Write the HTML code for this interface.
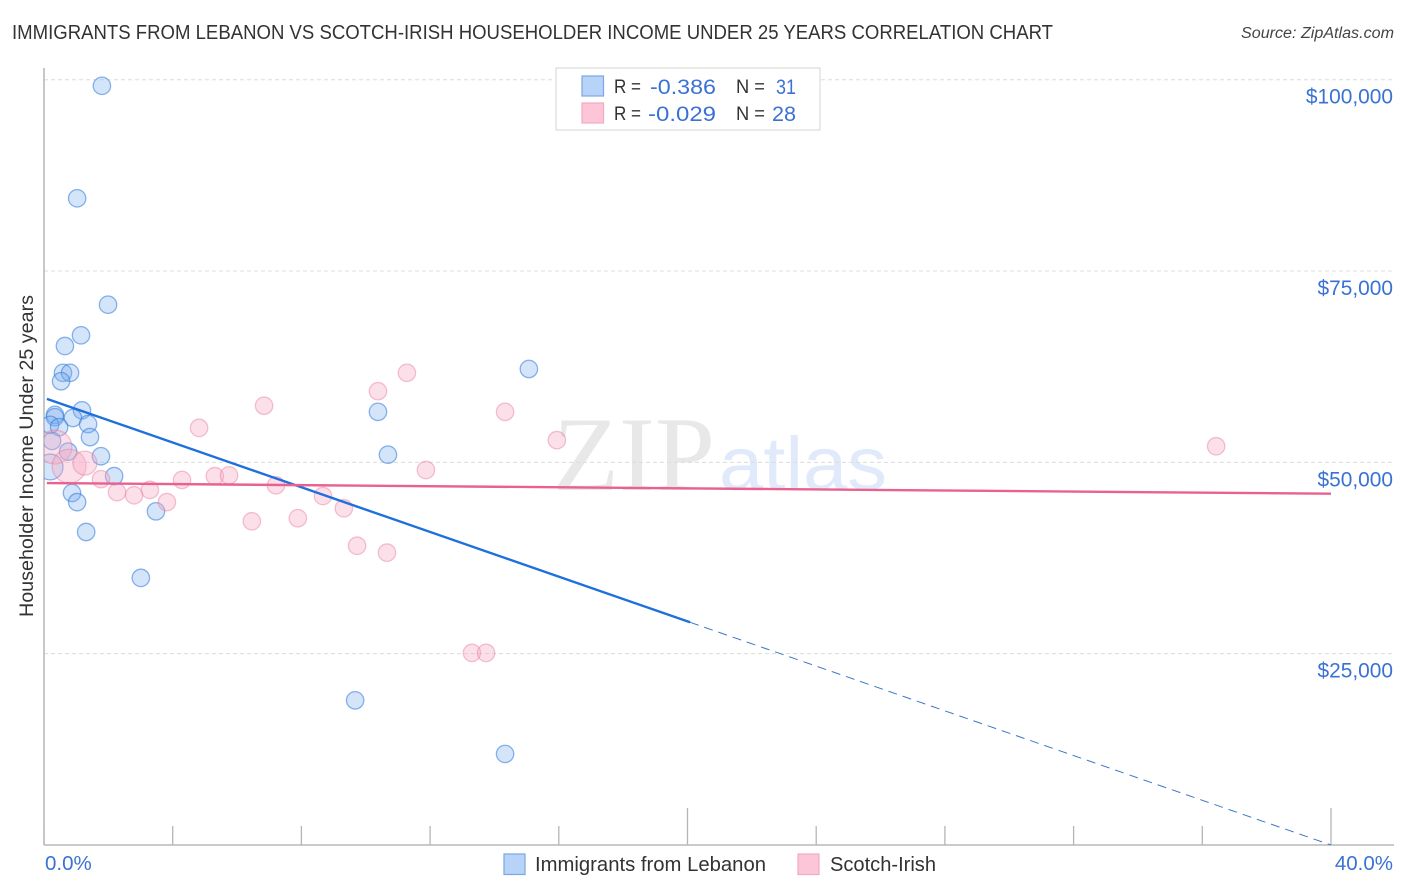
<!DOCTYPE html>
<html lang="en">
<head>
<meta charset="utf-8">
<title>Immigrants from Lebanon vs Scotch-Irish Householder Income Correlation Chart</title>
<style>
html,body{margin:0;padding:0;background:#fff;width:1406px;height:892px;overflow:hidden}
svg{display:block;font-family:"Liberation Sans",sans-serif}
</style>
</head>
<body>
<svg id="chart" width="1406" height="892" viewBox="0 0 1406 892" xmlns="http://www.w3.org/2000/svg">
  <defs><clipPath id="plot-clip"><rect x="44" y="60" width="1350" height="785"/></clipPath></defs>
  <rect x="0" y="0" width="1406" height="892" fill="#fff"/>
  <text x="12" y="39" font-size="20" fill="#333" textLength="1041" lengthAdjust="spacingAndGlyphs">IMMIGRANTS FROM LEBANON VS SCOTCH-IRISH HOUSEHOLDER INCOME UNDER 25 YEARS CORRELATION CHART</text>
  <text x="1241" y="38" font-size="15.5" font-style="italic" fill="#444" textLength="153" lengthAdjust="spacingAndGlyphs">Source: ZipAtlas.com</text>
  <g>
    <text x="553" y="490" font-family="'Liberation Serif',serif" font-size="106" fill="#e8e8e8" textLength="162" lengthAdjust="spacingAndGlyphs">ZIP</text>
    <text x="719" y="490" font-size="76" fill="#e1eafa" textLength="168" lengthAdjust="spacingAndGlyphs">atlas</text>
  </g>
  <g id="grid"></g>
  <g id="axes"></g>
  <g id="marks-lebanon" clip-path="url(#plot-clip)"></g>
  <g id="marks-scotch" clip-path="url(#plot-clip)"></g>
  <g id="trends"></g>
  <text transform="translate(33,456) rotate(-90)" text-anchor="middle" font-size="19.5" fill="#333" textLength="322" lengthAdjust="spacingAndGlyphs">Householder Income Under 25 years</text>
  <g>
    <rect x="556" y="68" width="264" height="62" fill="#fff" stroke="#ddd" stroke-width="1.2"/>
    <rect x="582" y="76" width="21.500" height="20" fill="#b7d3f8" stroke="#7aa8e4" stroke-width="1.2"/>
    <rect x="582" y="103" width="21.500" height="20" fill="#fcc6d8" stroke="#f3a9c2" stroke-width="1.2"/>
    <text x="614" y="93" font-size="19.500" fill="#333" textLength="27" lengthAdjust="spacingAndGlyphs">R =</text>
    <text x="650" y="94" font-size="21.500" fill="#3a72d4" textLength="66" lengthAdjust="spacingAndGlyphs">-0.386</text>
    <text x="736" y="93" font-size="19.500" fill="#333" textLength="29" lengthAdjust="spacingAndGlyphs">N =</text>
    <text x="776" y="94" font-size="21.500" fill="#3a72d4" textLength="20" lengthAdjust="spacingAndGlyphs">31</text>
    <text x="614" y="120" font-size="19.500" fill="#333" textLength="27" lengthAdjust="spacingAndGlyphs">R =</text>
    <text x="648" y="121" font-size="21.500" fill="#3a72d4" textLength="68" lengthAdjust="spacingAndGlyphs">-0.029</text>
    <text x="736" y="120" font-size="19.500" fill="#333" textLength="29" lengthAdjust="spacingAndGlyphs">N =</text>
    <text x="772" y="121" font-size="21.500" fill="#3a72d4" textLength="24" lengthAdjust="spacingAndGlyphs">28</text>
  </g>
  <g>
    <rect x="504" y="854" width="21" height="20.500" fill="#b7d3f8" stroke="#7aa8e4" stroke-width="1.2"/>
    <text x="535" y="871" font-size="20" fill="#333" textLength="231" lengthAdjust="spacingAndGlyphs">Immigrants from Lebanon</text>
    <rect x="798" y="854" width="21" height="20.500" fill="#fcc6d8" stroke="#f3a9c2" stroke-width="1.2"/>
    <text x="830" y="871" font-size="20" fill="#333" textLength="106" lengthAdjust="spacingAndGlyphs">Scotch-Irish</text>
  </g>
</svg>
<script>
// Chart data
var yTickValues = [25, 50, 75, 100];
var yTickLabels = ['$25,000', '$50,000', '$75,000', '$100,000'];
var xTickValues = [0, 4, 8, 12, 16, 20, 24, 28, 32, 36, 40];
var xEndLabels = ['0.0%', '40.0%'];

var lebanonIncome = [99.2, 84.5, 70.6, 66.6, 65.2, 61.7, 61.7, 60.6, 56.8, 56.2, 55.9, 55.8, 54.9, 54.6, 55.0, 53.3, 52.8, 51.4, 50.8, 48.2, 49.4, 46.0, 44.8, 43.6, 40.9, 34.9, 56.6, 51.0, 62.2, 18.9, 11.9];
var lebanonShare = [1.80, 1.03, 1.99, 1.15, 0.65, 0.59, 0.81, 0.53, 1.18, 0.34, 0.34, 0.90, 0.19, 0.47, 1.37, 1.43, 0.25, 0.75, 1.77, 2.18, 0.19, 0.87, 1.03, 3.48, 1.31, 3.01, 10.38, 10.69, 15.07, 9.67, 14.33];
var lebanonWeight = [1, 1, 1, 1, 1, 1, 1, 1, 1, 1, 1, 1, 1, 1, 1, 1, 1, 1, 1, 1, 2.2, 1, 1, 1, 1, 1, 1, 1, 1, 1, 1];

var scotchIncome = [52.0, 49.5, 49.9, 47.8, 46.1, 45.7, 46.4, 44.8, 47.7, 48.2, 48.3, 54.5, 57.4, 47.0, 42.3, 42.7, 45.6, 44.0, 39.1, 38.2, 59.3, 61.7, 49.0, 25.1, 25.1, 56.6, 52.9, 52.1];
var scotchShare = [0.34, 0.78, 1.27, 1.77, 2.27, 2.80, 3.29, 3.82, 4.29, 5.31, 5.75, 4.82, 6.84, 7.21, 6.46, 7.89, 8.67, 9.32, 9.73, 10.66, 10.38, 11.28, 11.87, 13.30, 13.74, 14.33, 15.94, 36.43];
var scotchWeight = [3.8, 3.8, 1.9, 1, 1, 1, 1, 1, 1, 1, 1, 1, 1, 1, 1, 1, 1, 1, 1, 1, 1, 1, 1, 1, 1, 1, 1, 1];

var lebanonTrendX = [0.09, 20.08, 40];
var lebanonTrendY = [58.3, 29.1, 0];
var scotchTrendX = [0.09, 40];
var scotchTrendY = [47.3, 45.9];

// Axis functions
function xScale(v) { return 44 + v * 32.175; }
function yScale(v) { return 845 - v * 7.653; }
function rScale(w) { return 8.7 * Math.sqrt(w); }

var NS = 'http://www.w3.org/2000/svg';
function make(tag, parent, attrs) {
  var el = document.createElementNS(NS, tag);
  for (var k in attrs) { el.setAttribute(k, attrs[k]); }
  parent.appendChild(el);
  return el;
}

var gridG = document.getElementById('grid');
var axesG = document.getElementById('axes');
var trendsG = document.getElementById('trends');

yTickValues.forEach(function (v, i) {
  var line = make('line', gridG, { x1: 44, x2: 1394, y1: yScale(v), y2: yScale(v), stroke: '#dcdcdc', 'stroke-width': 1, 'stroke-dasharray': '4 3' });
  
  
  var label = make('text', axesG, { x: 1393, y: yScale(v) + 24, 'text-anchor': 'end', 'font-size': 20.9, fill: '#3a72d4' });
  
  
  label.textContent = yTickLabels[i];
});

var yAxis = make('line', axesG, { x1: 44, x2: 44, y1: 68, y2: 845, stroke: '#aaa', 'stroke-width': 1.3 });


var xAxis = make('line', axesG, { x1: 44, x2: 1394, y1: 845, y2: 845, stroke: '#aaa', 'stroke-width': 1.3 });



xTickValues.forEach(function (v) {
  var major = v === 20 || v === 40;
  var tick = make('line', axesG, { x1: xScale(v), x2: xScale(v), y1: major ? 808 : 826, y2: 845, stroke: '#b5b5b5', 'stroke-width': 1.3 });
  
  
});

var xStart = make('text', axesG, { x: 45, y: 870, 'font-size': 20.5, fill: '#3a72d4' });


xStart.textContent = xEndLabels[0];
var xEnd = make('text', axesG, { x: 1393, y: 870, 'text-anchor': 'end', 'font-size': 20.5, fill: '#3a72d4' });


xEnd.textContent = xEndLabels[1];

var lebanonG = document.getElementById('marks-lebanon');
lebanonShare.forEach(function (v, i) {
  var dot = make('circle', lebanonG, { cx: xScale(v), cy: yScale(lebanonIncome[i]), r: rScale(lebanonWeight[i]), fill: 'rgba(120,170,235,0.32)', stroke: 'rgba(45,120,220,0.55)', 'stroke-width': 1.3 });
  
  
});

var scotchG = document.getElementById('marks-scotch');
scotchShare.forEach(function (v, i) {
  var dot = make('circle', scotchG, { cx: xScale(v), cy: yScale(scotchIncome[i]), r: rScale(scotchWeight[i]), fill: 'rgba(248,170,195,0.36)', stroke: 'rgba(232,120,160,0.45)', 'stroke-width': 1.3 });
  
  
});

var lebanonSolid = make('line', trendsG, { x1: xScale(lebanonTrendX[0]), y1: yScale(lebanonTrendY[0]), x2: xScale(lebanonTrendX[1]), y2: yScale(lebanonTrendY[1]), stroke: '#1f6fdc', 'stroke-width': 2.4 });


var lebanonDash = make('line', trendsG, { x1: xScale(lebanonTrendX[1]), y1: yScale(lebanonTrendY[1]), x2: xScale(lebanonTrendX[2]), y2: yScale(lebanonTrendY[2]), stroke: '#3f78c8', 'stroke-width': 1, 'stroke-dasharray': '9 6' });


var scotchLine = make('line', trendsG, { x1: xScale(scotchTrendX[0]), y1: yScale(scotchTrendY[0]), x2: xScale(scotchTrendX[1]), y2: yScale(scotchTrendY[1]), stroke: '#e9618f', 'stroke-width': 2.4 });


</script>
</body>
</html>
